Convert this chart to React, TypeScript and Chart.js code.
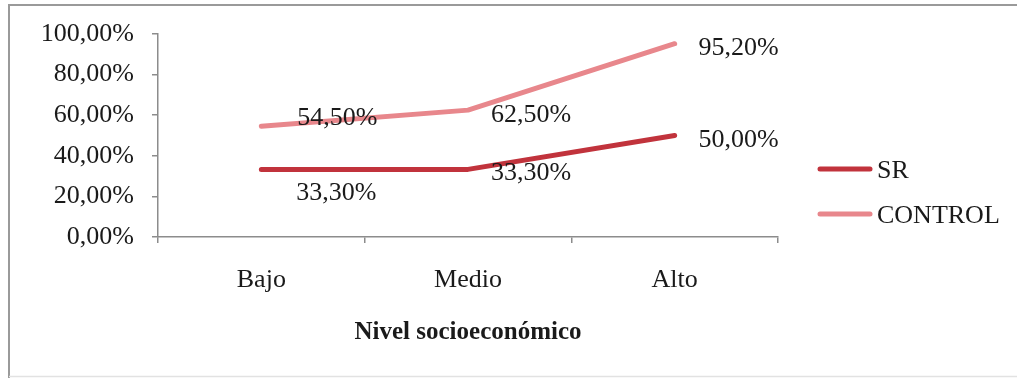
import React, { useEffect, useRef } from "react";
import { Chart, registerables } from "chart.js";

Chart.register(...registerables);

// Categories and series values (percent)
const categories: string[] = ["Bajo", "Medio", "Alto"];
const srValues: number[] = [33.3, 33.3, 50.0];
const controlValues: number[] = [54.5, 62.5, 95.2];
const seriesNames: string[] = ["SR", "CONTROL"];
const yTicks: number[] = [0, 20, 40, 60, 80, 100];

// Label offsets (px) from each point to the centre of its value label
const srLabelOffsets: [number, number][] = [[75, 24], [63, 4], [64, 5]];
const controlLabelOffsets: [number, number][] = [[76, -8], [63, 5], [64, 4]];

const SR_COLOR = "#c1333c";
const CONTROL_COLOR = "#e8878c";
const TEXT_COLOR = "#1a1a1a";
const AXIS_COLOR = "#8c8c8c";
const FONT = "'Liberation Serif', 'Times New Roman', serif";

const fmt = (v: number) => v.toFixed(2).replace(".", ",") + "%";

const decorPlugin = {
  id: "decor",
  beforeDraw(chart: any) {
    const ctx = chart.ctx;
    ctx.save();
    ctx.fillStyle = "#ffffff";
    ctx.fillRect(0, 0, chart.width, chart.height);
    // outer frame
    ctx.strokeStyle = "#9a9a9a";
    ctx.lineWidth = 2;
    ctx.beginPath();
    ctx.moveTo(9, chart.height);
    ctx.lineTo(9, 5);
    ctx.lineTo(chart.width, 5);
    ctx.stroke();
    ctx.strokeStyle = "#e2e2e2";
    ctx.lineWidth = 1.5;
    ctx.beginPath();
    ctx.moveTo(9, 376.5);
    ctx.lineTo(chart.width, 376.5);
    ctx.stroke();
    ctx.restore();
  },
  afterDatasetsDraw(chart: any) {
    const ctx = chart.ctx;
    ctx.save();
    ctx.font = `26px ${FONT}`;
    ctx.fillStyle = TEXT_COLOR;
    ctx.textAlign = "center";
    ctx.textBaseline = "middle";
    const offsets = [srLabelOffsets, controlLabelOffsets];
    chart.data.datasets.forEach((ds: any, di: number) => {
      const meta = chart.getDatasetMeta(di);
      meta.data.forEach((pt: any, i: number) => {
        const [dx, dy] = offsets[di][i];
        ctx.fillText(fmt(ds.data[i]), pt.x + dx, pt.y + dy);
      });
    });

    // legend
    const legendY = [169, 214];
    chart.data.datasets.forEach((ds: any, di: number) => {
      const y = legendY[di];
      ctx.strokeStyle = ds.borderColor;
      ctx.lineWidth = 5;
      ctx.lineCap = "round";
      ctx.beginPath();
      ctx.moveTo(820, y);
      ctx.lineTo(870, y);
      ctx.stroke();
      ctx.textAlign = "left";
      ctx.fillStyle = TEXT_COLOR;
      ctx.fillText(ds.label, 877, y + 2);
    });
    ctx.restore();
  },
};

export default function App() {
  const canvasRef = useRef<HTMLCanvasElement | null>(null);

  useEffect(() => {
    if (!canvasRef.current) return;
    const chart = new Chart(canvasRef.current, {
      type: "line",
      data: {
        labels: categories,
        datasets: [
          {
            label: seriesNames[0],
            data: srValues,
            borderColor: SR_COLOR,
            backgroundColor: SR_COLOR,
            borderWidth: 5,
            borderCapStyle: "round",
            borderJoinStyle: "round",
            pointRadius: 0,
            tension: 0,
          },
          {
            label: seriesNames[1],
            data: controlValues,
            borderColor: CONTROL_COLOR,
            backgroundColor: CONTROL_COLOR,
            borderWidth: 5,
            borderCapStyle: "round",
            borderJoinStyle: "round",
            pointRadius: 0,
            tension: 0,
          },
        ],
      },
      options: {
        responsive: false,
        animation: false,
        layout: { padding: { left: 0, top: 34, right: 239, bottom: 0 } },
        plugins: {
          legend: { display: false },
          tooltip: { enabled: false },
        },
        scales: {
          x: {
            offset: true,
            grid: {
              offset: true,
              drawOnChartArea: false,
              drawTicks: true,
              tickLength: 6,
              color: AXIS_COLOR,
              lineWidth: 1.5,
            },
            border: { color: AXIS_COLOR, width: 1.5 },
            ticks: {
              color: TEXT_COLOR,
              font: { family: FONT, size: 26 },
              padding: 22,
              maxRotation: 0,
            },
            title: {
              display: true,
              text: "Nivel socioeconómico",
              color: TEXT_COLOR,
              font: { family: FONT, size: 25, weight: "bold" },
              padding: { top: 0, bottom: 30 },
            },
            afterFit(scale: any) {
              scale.height = 141;
            },
          },
          y: {
            min: 0,
            max: 100,
            afterBuildTicks(scale: any) {
              scale.ticks = yTicks.map((v) => ({ value: v }));
            },
            grid: {
              drawOnChartArea: false,
              drawTicks: true,
              tickLength: 6,
              color: AXIS_COLOR,
              lineWidth: 1.5,
            },
            border: { color: AXIS_COLOR, width: 1.5 },
            ticks: {
              color: TEXT_COLOR,
              font: { family: FONT, size: 26 },
              padding: 18,
              callback: (v: any) => fmt(Number(v)),
            },
            afterFit(scale: any) {
              scale.width = 158;
            },
          },
        },
      },
      plugins: [decorPlugin],
    });
    return () => chart.destroy();
  }, []);

  return (
    <div style={{ position: "fixed", left: 0, top: 0, width: 1017, height: 378, background: "#fff" }}>
      <canvas ref={canvasRef} width={1017} height={378} />
    </div>
  );
}
